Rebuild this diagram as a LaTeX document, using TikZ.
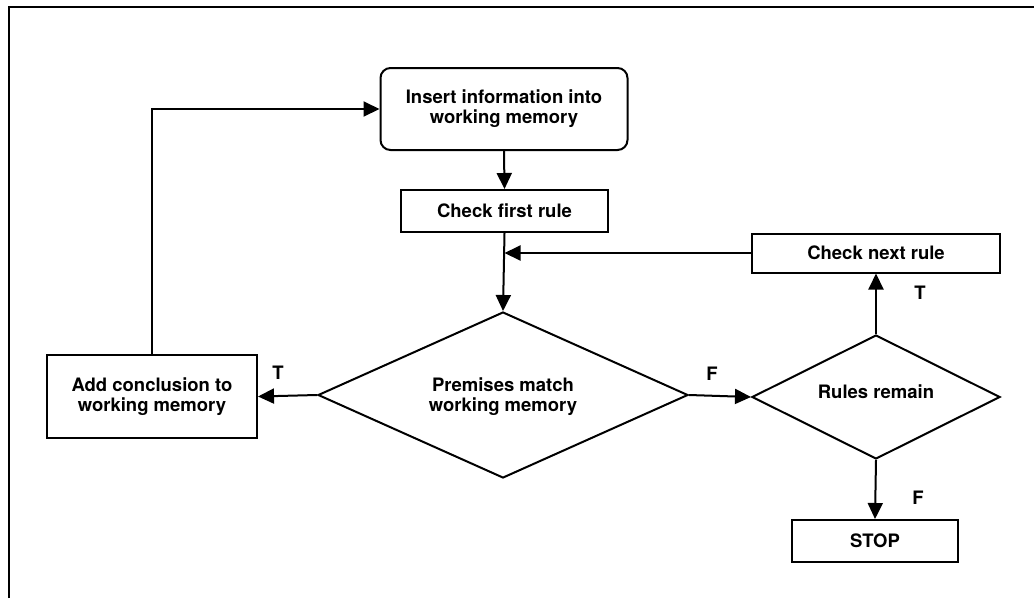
\documentclass[tikz,border=0pt]{standalone}
\usepackage{fontspec}
\setmainfont{TeX Gyre Heros}
\usetikzlibrary{arrows.meta,shapes.geometric}
\begin{document}
\begin{tikzpicture}[x=1pt,y=-1pt,
  every node/.style={font=\fontsize{18.5}{20}\selectfont\bfseries},
  proc/.style={draw, line width=2pt, rectangle, inner sep=0pt, align=center},
  dec/.style={draw, line width=2pt, diamond, inner sep=0pt},
  conn/.style={line width=2pt, -{Triangle[length=16pt,width=15pt]}},
  lbl/.style={inner sep=0pt}]
\useasboundingbox (0,0) rectangle (1034,598);
\draw[line width=2.2pt] (9,598) -- (9,7) -- (1034,7);

\node[proc, rounded corners=10pt, minimum width=247pt, minimum height=82pt] (ins) at (504,109) {Insert information into\\working memory};
\node[proc, minimum width=207pt, minimum height=42pt] (first) at (504.5,211) {Check first rule};
\node[dec, minimum width=370pt, minimum height=166pt] (prem) at (503,395) {};
\node[align=center] (premt) at (503,397) {Premises match\\working memory};
\node[dec, minimum width=248pt, minimum height=124pt] (rules) at (876,397) {};
\node (rulest) at (876,392) {Rules remain};
\node[proc, minimum width=248pt, minimum height=39pt] (next) at (876,253) {Check next rule};
\node[proc, minimum width=166pt, minimum height=42pt] (stop) at (875,541) {STOP};
\node[proc, minimum width=210pt, minimum height=83pt] (add) at (152,396.5) {Add conclusion to\\working memory};

\node[lbl] (lf1) at (712,374) {F};
\node[lbl] (lt1) at (920,293) {T};
\node[lbl] (lf2) at (918,498) {F};
\node[lbl] (lt2) at (278,373) {T};

\draw[conn] (ins.south) -- (first.north);
\draw[conn] (first.south) -- (prem.north);
\draw[conn] (next.west) -- (next.west -| first.south);
\draw[conn] (prem.east) -- (rules.west);
\draw[conn] (rules.north) -- (next.south);
\draw[conn] (rules.south) -- (stop.north);
\draw[conn] (prem.west) -- (add.east);
\draw[conn] (add.north) |- (ins.west);
\end{tikzpicture}
\end{document}
